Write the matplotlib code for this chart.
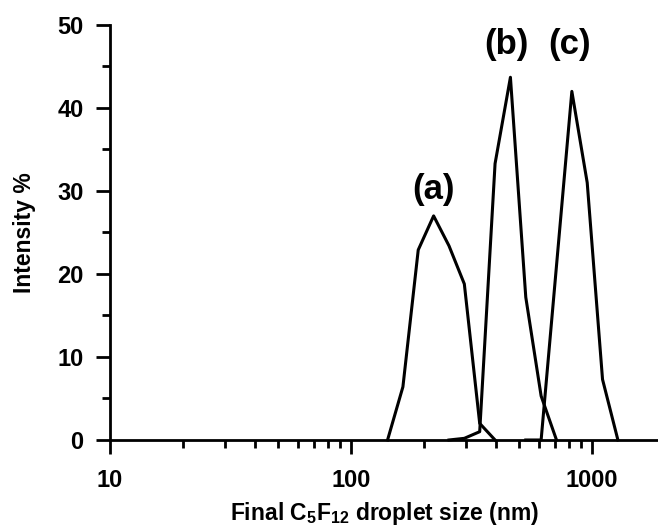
import matplotlib
matplotlib.use('Agg')
import matplotlib.pyplot as plt
from matplotlib.ticker import LogLocator, FixedLocator, FixedFormatter, NullFormatter

# Dados de DLS (bins de tamanho do Zetasizer, em nm) e intensidade (%)
sizes_a = [141.8, 164.2, 190.1, 220.2, 255.0, 295.3, 342.0, 396.1]
intensity_a = [0, 6.4, 22.9, 27.0, 23.4, 18.8, 2.0, 0]

sizes_b = [255.0, 295.3, 342.0, 396.1, 458.7, 531.2, 615.1, 712.4]
intensity_b = [0, 0.2, 1.0, 33.3, 43.7, 17.2, 5.3, 0]

sizes_c = [531.2, 615.1, 712.4, 825.0, 955.4, 1106.0, 1281.0]
intensity_c = [0, 0, 21.0, 42.0, 31.0, 7.3, 0]

labels = ['(a)', '(b)', '(c)']
label_x = [220, 442, 805]
label_y = [30.2, 47.6, 47.6]

x_ticks = [10, 100, 1000]
y_ticks = [0, 10, 20, 30, 40, 50]

plt.rcParams['font.family'] = ['Liberation Sans', 'DejaVu Sans']
plt.rcParams['font.weight'] = 'bold'
plt.rcParams['mathtext.fontset'] = 'custom'
plt.rcParams['mathtext.rm'] = 'Liberation Sans:bold'
plt.rcParams['mathtext.bf'] = 'Liberation Sans:bold'
plt.rcParams['mathtext.default'] = 'bf'

fig = plt.figure(figsize=(6.58, 5.27), dpi=100)
ax = fig.add_axes([0.1672, 0.1651, 0.8328, 0.7875])

for xs, ys in [(sizes_a, intensity_a), (sizes_b, intensity_b), (sizes_c, intensity_c)]:
    ax.plot(xs, ys, color='black', linewidth=2.2, clip_on=False)

for txt, xx, yy in zip(labels, label_x, label_y):
    ax.text(xx, yy, txt, ha='center', va='center', fontsize=25, fontweight='bold')

ax.set_xscale('log')
ax.set_xlim(10, 1879)
ax.set_ylim(0, 50)

ax.xaxis.set_major_locator(FixedLocator(x_ticks))
ax.xaxis.set_major_formatter(FixedFormatter([str(t) for t in x_ticks]))
ax.xaxis.set_minor_locator(LogLocator(base=10, subs=range(2, 10)))
ax.xaxis.set_minor_formatter(NullFormatter())
ax.set_yticks(y_ticks)
ax.set_yticks([5, 15, 25, 35, 45], minor=True)

for s in ['top', 'right']:
    ax.spines[s].set_visible(False)
for s in ['left', 'bottom']:
    ax.spines[s].set_linewidth(2.0)

ax.tick_params(which='major', direction='out', length=10, width=2.0, labelsize=17)
ax.tick_params(axis='x', which='major', pad=11)
ax.tick_params(axis='y', which='major', pad=9)
ax.tick_params(which='minor', direction='out', length=5.8, width=2.0)

ax.set_xlabel(r'Final C$_5$F$_{12}$ droplet size (nm)', fontsize=16.5, fontweight='bold', labelpad=6)
ax.set_ylabel('Intensity %', fontsize=16.5, fontweight='bold', labelpad=15)

fig.savefig('out.png', dpi=100)
